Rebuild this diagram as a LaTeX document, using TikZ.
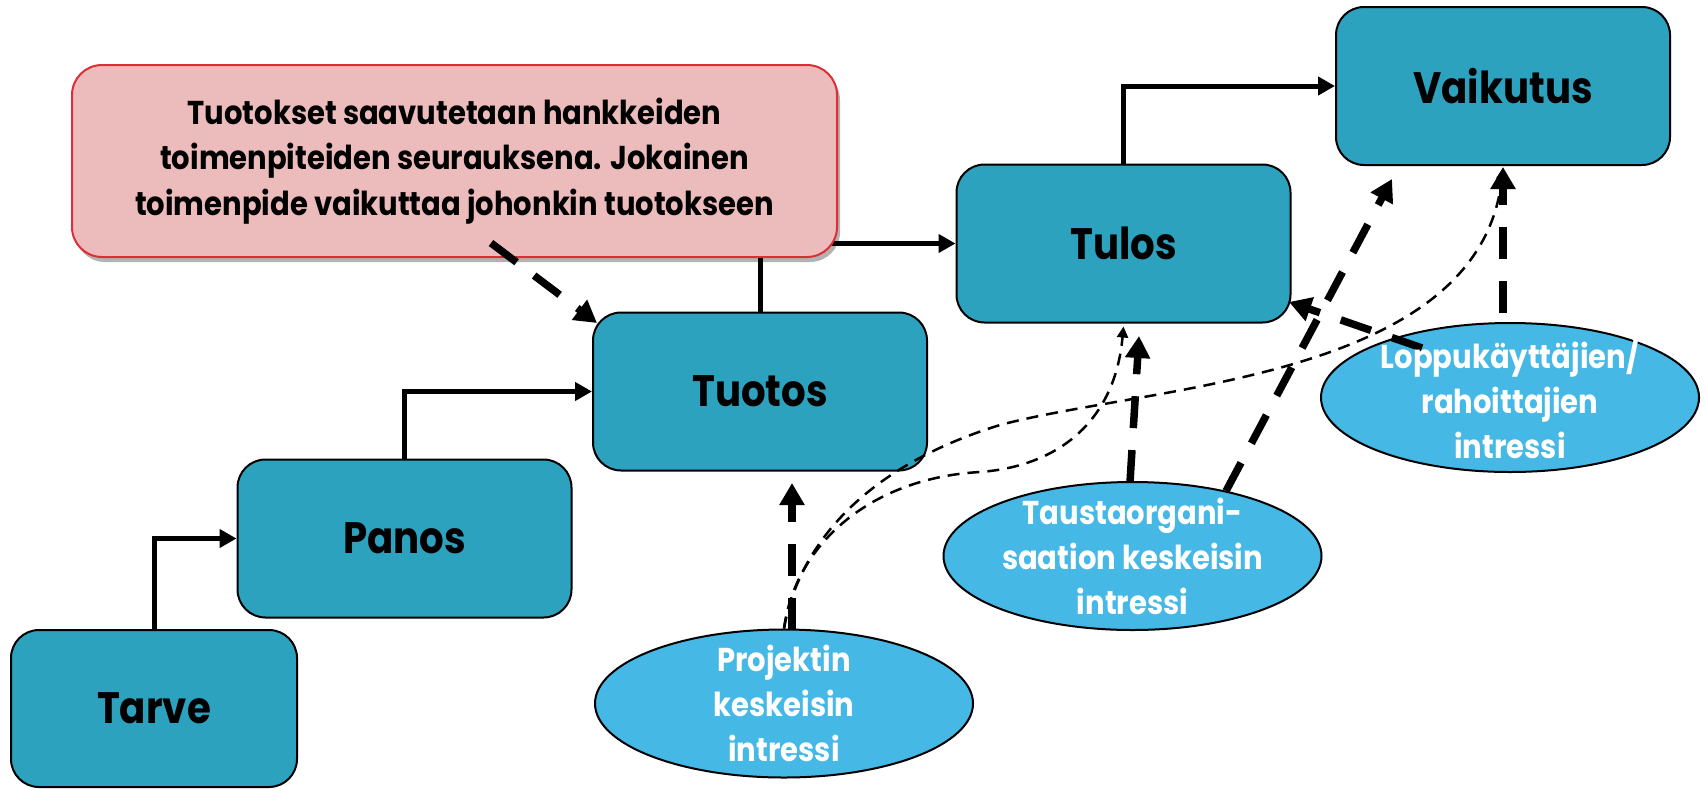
\documentclass[tikz,border=0pt]{standalone}
\usepackage{fontspec}
\setmainfont{Poppins}[FakeStretch=0.88]
\usetikzlibrary{arrows.meta,shapes.geometric,shadows}
\definecolor{boxteal}{RGB}{44,162,191}
\definecolor{ellblue}{RGB}{69,184,230}
\definecolor{pinkfill}{RGB}{236,187,188}
\definecolor{pinkline}{RGB}{222,45,55}
\begin{document}
\begin{tikzpicture}[x=1pt,y=-1pt,
  stage/.style={draw=black, line width=2pt, fill=boxteal, rounded corners=28pt,
    minimum width=334pt, minimum height=158pt, inner sep=0pt,
    font=\fontsize{44}{50}\selectfont\bfseries},
  ell/.style={ellipse, draw=black, line width=2pt, fill=ellblue,
    minimum width=378pt, minimum height=148pt, inner sep=0pt},
  elltext/.style={text=white, align=center, inner sep=0pt,
    font=\fontsize{33}{45}\selectfont\bfseries},
  flow/.style={line width=5pt, -{Triangle[length=17pt,width=18pt]}},
  bigdash/.style={line width=7.5pt, dash pattern=on 32pt off 22pt,
    -{Triangle[length=22pt,width=24pt]}},
  thindash/.style={line width=2.5pt, dash pattern=on 12pt off 8pt,
    -{Triangle[length=11pt,width=11pt]}},
]
\useasboundingbox[fill=white] (0,0) rectangle (1704,788);

% stage boxes
\node (tarve) [stage, minimum width=286pt, minimum height=157pt] at (154,708.5) {Tarve};
\node (panos) [stage] at (404.5,538.5) {Panos};
\node (tuotos) [stage] at (760,391.5) {Tuotos};
\node (tulos) [stage] at (1123.5,243.5) {Tulos};
\node (vaik) [stage] at (1503,86) {Vaikutus};

% solid flow connectors
\draw[flow] (tarve.north) |- (panos.west);
\draw[flow] (panos.north) |- (tuotos.west);
\draw[flow] (tuotos.north) |- (tulos.west);
\draw[flow] (tulos.north) |- (vaik.west);

% note box
\node (note) [draw=pinkline, line width=2pt, fill=pinkfill, rounded corners=30pt,
  minimum width=765pt, minimum height=192pt, inner sep=0pt, align=center,
  font=\fontsize{33}{45.5}\selectfont\bfseries,
  drop shadow={shadow xshift=3pt, shadow yshift=-5pt, fill=black, opacity=0.3}]
  at (454.5,161) {Tuotokset saavutetaan hankkeiden\\toimenpiteiden seurauksena. Jokainen\\toimenpide vaikuttaa johonkin tuotokseen};

% interest ellipses
\node (proj) [ell] at (784,703.5) {};
\node (taus) [ell] at (1132.5,556) {};
\node (lopp) [ell, minimum height=149pt] at (1510,397.5) {};

% dashed arrow end points
\coordinate (d1s) at (491,243);  \coordinate (d1e) at (597,323);
\coordinate (d2s) at (792,630);  \coordinate (d2e) at (792,483);
\coordinate (d3s) at (1130,482); \coordinate (d3e) at (1139,336);
\coordinate (d4s) at (1226,491); \coordinate (d4e) at (1392,179);
\coordinate (d5s) at (1422,348); \coordinate (d5e) at (1289,302);
\coordinate (d6s) at (1503,313); \coordinate (d6e) at (1503,167);

\draw[bigdash] (d1s) -- (d1e);
\draw[bigdash] (d2s) -- (d2e);
\draw[bigdash] (d3s) -- (d3e);
\draw[bigdash] (d4s) -- (d4e);
\draw[bigdash] (d5s) -- (d5e);
\draw[bigdash] (d6s) -- (d6e);

% thin dashed curves
\draw[thindash] (proj.north) .. controls (795,545) and (870,478) .. (980,472)
  .. controls (1060,466) and (1115,420) .. ([yshift=-3pt]tulos.south);
\draw[thindash] (proj.north) .. controls (800,540) and (870,465) .. (1000,425)
  .. controls (1150,385) and (1480,380) .. ([yshift=-2pt]vaik.south);

% ellipse texts
\node (projt) [elltext] at (proj) {Projektin\\keskeisin\\intressi};
\node (taust) [elltext] at (taus) {Taustaorgani-\\saation keskeisin\\intressi};
\node (loppt) [elltext] at (lopp) {Loppukäyttäjien/\\rahoittajien\\intressi};
\end{tikzpicture}
\end{document}
